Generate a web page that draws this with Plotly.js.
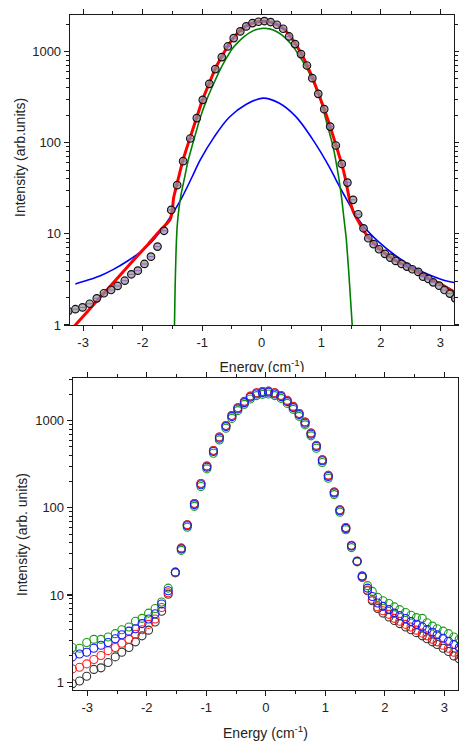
<!DOCTYPE html>
<html><head><meta charset="utf-8">
<script src="https://cdn.plot.ly/plotly-3.0.1.min.js"></script>
<style>
html,body{margin:0;padding:0;background:#fff;overflow:hidden;width:459px;height:741px;}
#top{position:absolute;left:0;top:0;width:459px;height:378px;}
#bot{position:absolute;left:0;top:372px;width:459px;height:369px;}
</style></head><body>
<div id="top"></div><div id="bot"></div>
<script>
// shared energy grid (cm^-1)
const energy = [-3.25,-3.13,-3.01,-2.89,-2.77,-2.65,-2.53,-2.42,-2.30,-2.19,-2.08,-1.97,-1.86,-1.75,-1.64,-1.52,
  -1.42,-1.32,-1.20,-1.09,-0.99,-0.88,-0.78,-0.67,-0.57,-0.47,-0.36,-0.26,-0.155,-0.055,
  0.045,0.15,0.255,0.36,0.46,0.56,0.66,0.76,0.85,0.95,1.05,1.15,1.245,1.345,1.44,1.535,
  1.62,1.71,1.79,1.88,1.97,2.07,2.16,2.25,2.35,2.44,2.53,2.63,2.71,2.80,2.88,2.98,3.07,3.16,3.25];

// top panel measured intensity
const topMeasured = [1.42,1.49,1.56,1.71,1.96,2.23,2.42,2.68,3.06,3.60,3.94,4.67,5.62,7.24,10.8,18.3,
  34.2,62.7,111,186,295,442,641,868,1135,1403,1660,1883,2050,2118,
  2157,2103,1963,1775,1461,1206,936,702,510,343,233,150,93,58.5,36.5,23.6,
  16.4,11.5,8.94,7.69,6.77,6.02,5.48,5.04,4.68,4.37,4.09,3.82,3.39,3.20,2.94,2.70,2.42,2.21,1.96];

// total fit (red)
const fitX = [-3.25,-3.13,-2.8,-2.5,-2.2,-1.9,-1.7,-1.6,-1.535,-1.50,-1.48,-1.42,-1.32,-1.2,-1.09,-0.99,-0.88,-0.78,-0.67,-0.57,
  -0.47,-0.36,-0.26,-0.155,-0.055,0.045,0.15,0.255,0.36,0.46,0.56,0.66,0.76,0.85,0.95,1.05,1.15,1.245,1.345,1.41,
  1.47,1.55,1.64,1.72,1.88,2.07,2.25,2.53,2.8,2.98,3.23];
const fitY = [0.82,1.0,1.74,2.87,4.75,7.8,11,12.8,14.5,18.5,24.7,35.9,65,115,190,300,450,650,880,1150,
  1420,1700,1900,2050,2120,2140,2100,1980,1790,1530,1230,960,710,520,350,235,150,95,58,39,
  24.7,16.8,13.1,10.6,7.9,6.1,5.1,4.1,3.25,2.87,2.32];

// gaussian component (green)
const gaussX = [-1.475,-1.465,-1.455,-1.44,-1.42,-1.39,-1.35,-1.30,-1.24,-1.13,-1.03,-0.92,-0.81,-0.70,-0.60,-0.50,-0.40,-0.30,-0.20,-0.10,
  0.03,0.13,0.23,0.33,0.43,0.53,0.61,0.72,0.84,0.97,1.11,1.20,1.30,1.345,1.38,1.42,1.46,1.49,1.52,1.535];
const gaussY = [0.5,1.0,2.5,6,12,19,28,40,62,113,190,300,440,630,830,1060,1260,1450,1610,1730,
  1800,1770,1680,1530,1340,1130,940,720,510,320,150,90,39,24,15,8.9,4,2,1,0.5];

// lorentzian component (blue)
const lorX = [-3.13,-2.93,-2.71,-2.49,-2.26,-2.04,-1.87,-1.70,-1.59,-1.48,-1.34,-1.17,-1.03,-0.80,-0.545,-0.265,0.02,
  0.29,0.57,0.85,1.13,1.24,1.38,1.52,1.69,1.97,2.25,2.53,2.81,3.02,3.23];
const lorY = [2.82,3.09,3.47,4.07,5.0,6.3,7.9,10.7,13.5,17.4,25,42,65,115,190,262,308,
  272,194,110,55,40,27,18.6,12.6,8.1,5.75,4.36,3.55,3.16,2.92];

// bottom panel: four spectra
const bottomBlack = [0.96,1.03,1.17,1.40,1.46,1.68,1.95,2.2,2.5,2.9,3.4,3.95,4.9,6.5,10.2,18,
  34.5,64,112,190,302,456,650,880,1145,1405,1665,1915,2095,2165,
  2185,2095,1950,1710,1460,1212,965,722,521,357,236,152,95,59,37,24.3,
  16.0,11.2,8.6,7.0,6.2,5.6,5.1,4.7,4.3,4.0,3.7,3.4,3.15,2.9,2.7,2.45,2.25,2.0,1.85];
const bottomRed = [1.42,1.48,1.62,1.82,2.02,2.3,2.5,2.8,3.1,3.55,4.0,4.6,5.3,7.2,10.6,18,
  34.5,64,112,190,302,456,650,880,1145,1405,1660,1910,2090,2160,
  2180,2090,1945,1705,1455,1210,965,720,520,357,236,152,95,59.5,37.3,24.5,
  16.0,11.4,8.9,7.3,6.6,6.0,5.4,5.0,4.6,4.3,3.95,3.65,3.4,3.1,2.9,2.65,2.45,2.2,2.05];
const bottomGreen = [2.5,2.45,2.85,3.1,3.1,3.3,3.6,4.0,4.3,5.0,5.4,6.2,7.0,8.3,12,18.3,
  32.5,60,104,176,280,423,602,818,1063,1305,1540,1775,1940,2005,
  2025,1940,1805,1580,1350,1122,895,670,483,332,219,142,89,56,35,24,
  16.6,12.8,11.0,9.4,8.6,8.0,7.3,6.8,6.3,5.85,5.5,5.4,4.8,4.4,4.1,3.85,3.6,3.3,3.1];
const bottomBlue = [1.95,2.1,2.2,2.45,2.65,2.85,3.15,3.5,3.85,4.1,4.7,5.3,6.1,7.9,11.2,18.3,
  33.7,62.4,109,184,293,443,630,856,1113,1365,1611,1858,2028,2099,
  2120,2028,1889,1656,1413,1175,936,700,505,347,229,148,92.6,58.1,36.5,24.3,
  16.4,12.0,9.6,8.1,7.4,6.8,6.2,5.8,5.37,4.96,4.62,4.31,4.02,3.74,3.49,3.19,2.95,2.70,2.5];

const xTickVals = [-3,-2,-1,0,1,2,3];
const xTickText = ['-3','-2','-1','0','1','2','3'];
const yTickVals = [1,10,100,1000];
const yTickText = ['1','10','100','1000'];

const FONT = 'Liberation Sans, Arial, sans-serif';
const AX = '#1a1a1a';

function xAxis(range, standoff){
  return {range:range, tickvals:xTickVals, ticktext:xTickText, ticks:'outside', ticklen:5, tickwidth:1.2, tickcolor:AX,
    showline:true, linecolor:AX, linewidth:1.3, mirror:'ticks', showgrid:false, zeroline:false,
    tickfont:{family:FONT,size:13,color:'#222'},
    minor:{dtick:0.5, ticks:'outside', ticklen:3, tickwidth:1, tickcolor:AX, showgrid:false},
    title:{text:'Energy (cm<sup>-1</sup>)', font:{family:FONT,size:14,color:'#222'}, standoff:standoff}};
}
function yAxis(range){
  return {type:'log', range:range, tickvals:yTickVals, ticktext:yTickText, ticks:'outside', ticklen:5, tickwidth:1.2, tickcolor:AX,
    showline:true, linecolor:AX, linewidth:1.3, mirror:'ticks', showgrid:false, zeroline:false,
    tickfont:{family:FONT,size:13,color:'#222'},
    minor:{dtick:'D1', ticks:'outside', ticklen:3, tickwidth:1, tickcolor:AX, showgrid:false}};
}

const topTraces = [
  {x:lorX, y:lorY, mode:'lines', type:'scatter', line:{color:'#0000ff', width:1.6, shape:'spline', smoothing:1}},
  {x:gaussX, y:gaussY, mode:'lines', type:'scatter', line:{color:'#008000', width:1.6, shape:'spline', smoothing:0.4}},
  {x:fitX, y:fitY, mode:'lines', type:'scatter', line:{color:'#ff0000', width:3, shape:'spline', smoothing:0.5}},
  {x:energy, y:topMeasured, mode:'markers', type:'scatter',
   marker:{symbol:'circle', size:7.5, color:'rgba(150,150,150,0.7)', line:{color:'#111', width:1.2}}},
  {x:energy, y:topMeasured, mode:'markers', type:'scatter',
   marker:{symbol:'line-ew-open', size:5, line:{color:'#333', width:1}}}
];
const topLayout = {
  width:459, height:378, margin:{l:70,r:5,t:15,b:53},
  paper_bgcolor:'#fff', plot_bgcolor:'#fff', showlegend:false,
  font:{family:FONT, color:'#222'},
  xaxis:xAxis([-3.22,3.23], 13), yaxis:yAxis([0,3.40]),
  annotations:[{text:'Intensity (arb.units)', textangle:-90, xref:'paper', yref:'paper', x:-0.130, y:0.539,
    xanchor:'center', yanchor:'middle', showarrow:false, font:{family:FONT,size:14,color:'#222'}}]
};

function ring(y, color){
  return {x:energy, y:y, mode:'markers', type:'scatter',
    marker:{symbol:'circle-open', size:8, color:color, line:{width:1.1}}};
}
const botTraces = [ring(bottomBlack,'#333333'), ring(bottomRed,'#ff2020'), ring(bottomGreen,'#1a9a1a'), ring(bottomBlue,'#1a1aff')];
const botLayout = {
  width:459, height:369, margin:{l:73,r:1,t:6,b:51},
  paper_bgcolor:'#fff', plot_bgcolor:'#fff', showlegend:false,
  font:{family:FONT, color:'#222'},
  xaxis:xAxis([-3.24,3.23], 16), yaxis:yAxis([-0.09,3.49]),
  annotations:[{text:'Intensity (arb. units)', textangle:-90, xref:'paper', yref:'paper', x:-0.1325, y:0.5,
    xanchor:'center', yanchor:'middle', showarrow:false, font:{family:FONT,size:14,color:'#222'}}]
};

Plotly.newPlot('top', topTraces, topLayout, {staticPlot:true});
Plotly.newPlot('bot', botTraces, botLayout, {staticPlot:true});
</script>
</body></html>
